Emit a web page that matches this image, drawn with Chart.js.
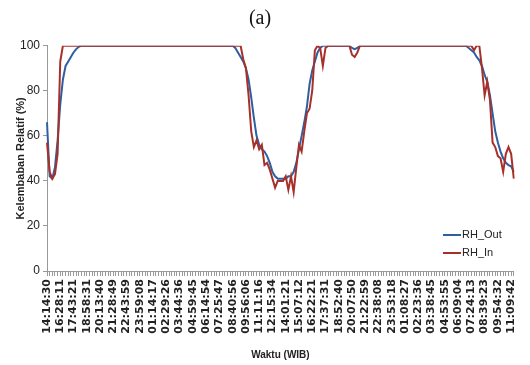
<!DOCTYPE html>
<html>
<head>
<meta charset="utf-8">
<script src="https://cdn.jsdelivr.net/npm/chart.js@4.4.1/dist/chart.umd.min.js"></script>
<style>
  body { margin: 0; background: #fff; }
  #wrap { width: 530px; height: 365px; }
</style>
</head>
<body>
<div id="wrap"><canvas id="chartRH" width="530" height="365"></canvas></div>
<script>
// tick labels shown on the time axis (one every 5 samples)
const tickLabels = ["14:14:30","16:28:11","17:43:21","18:58:31","20:13:40","21:28:49","22:43:59","23:59:08",
  "01:14:17","02:29:26","03:44:36","04:59:45","06:14:54","07:25:47","08:40:56","09:56:06","11:11:16",
  "12:15:34","14:01:21","15:07:12","16:22:21","17:37:31","18:52:40","20:07:50","21:22:59","22:38:08",
  "23:53:18","01:08:27","02:23:36","03:38:45","04:53:55","06:09:04","07:24:13","08:39:23","09:54:32","11:09:42"];
const labelEvery = 5;

const seriesNames = ["RH_Out", "RH_In"];

const rhOut = [
  66, 42, 41, 46, 58, 74, 85, 91, 93, 95, 97, 98.5, 99.5,
  100, 100, 100, 100, 100, 100, 100, 100, 100, 100,
  100, 100, 100, 100, 100, 100, 100, 100, 100, 100,
  100, 100, 100, 100, 100, 100, 100, 100, 100, 100,
  100, 100, 100, 100, 100, 100, 100, 100, 100, 100,
  100, 100, 100, 100, 100, 100, 100, 100, 100, 100,
  100, 100, 100, 100, 100, 100, 100, 100,
  99, 97, 95, 93, 90, 85, 77, 68, 60, 56, 54, 53, 51, 48, 44, 42, 41, 41, 41, 41,
  42, 42, 44, 48, 54, 60, 66, 73, 83, 89, 93, 97, 99,
  100, 100, 100, 100, 100, 100, 100, 100, 100, 100, 100,
  99, 98.5, 99,
  100, 100, 100, 100, 100, 100, 100, 100, 100, 100,
  100, 100, 100, 100, 100, 100, 100, 100, 100, 100,
  100, 100, 100, 100, 100, 100, 100, 100, 100, 100,
  100, 100, 100, 100, 100, 100, 100, 100, 100, 100,
  100,
  99, 98, 97, 95, 93.5, 91, 87, 84, 78, 70, 62, 57, 53, 50, 48, 47, 46.5, 44
];

const rhIn = [
  57, 44, 41, 43, 52, 93,
  100, 100, 100, 100, 100, 100, 100, 100, 100, 100,
  100, 100, 100, 100, 100, 100, 100, 100, 100, 100,
  100, 100, 100, 100, 100, 100, 100, 100, 100, 100,
  100, 100, 100, 100, 100, 100, 100, 100, 100, 100,
  100, 100, 100, 100, 100, 100, 100, 100, 100, 100,
  100, 100, 100, 100, 100, 100, 100, 100, 100, 100,
  100, 100, 100, 100, 100, 100, 100, 100,
  94, 90, 78, 62, 55, 58, 54, 56, 47, 48, 45, 41, 37, 40, 40, 40, 42, 36, 42, 35,
  46, 56, 53, 62, 70, 72, 80, 98, 100,
  99, 91, 99,
  100, 100, 100, 100, 100, 100, 100, 100, 100,
  96, 95, 97,
  100, 100, 100, 100, 100, 100, 100, 100, 100, 100,
  100, 100, 100, 100, 100, 100, 100, 100, 100, 100,
  100, 100, 100, 100, 100, 100, 100, 100, 100, 100,
  100, 100, 100, 100, 100, 100, 100, 100, 100, 100,
  100, 100, 100,
  98,
  100, 100,
  90, 78, 84, 76, 57, 55, 51, 50, 44, 52, 55, 52, 41
];

const yTicks = [0, 20, 40, 60, 80, 100];

// one category per sample, only every 5th carries a time label
const categories = rhOut.map((v, i) => (i % labelEvery === 0 ? (tickLabels[i / labelEvery] || "") : ""));

const colors = { out: "#2f5f9f", in: "#a8302b" };

// legend drawn inside the plot, lower right
const innerLegend = {
  id: "innerLegend",
  afterDatasetsDraw(chart) {
    const ctx = chart.ctx;
    const items = [
      { text: seriesNames[0], color: colors.out, y: 235 },
      { text: seriesNames[1], color: colors.in, y: 253 }
    ];
    ctx.save();
    ctx.font = "11px 'Liberation Sans', sans-serif";
    ctx.textBaseline = "middle";
    items.forEach(it => {
      ctx.strokeStyle = it.color;
      ctx.lineWidth = 2;
      ctx.beginPath();
      ctx.moveTo(443, it.y);
      ctx.lineTo(461, it.y);
      ctx.stroke();
      ctx.fillStyle = "#222";
      ctx.fillText(it.text, 462, it.y);
    });
    ctx.restore();
  }
};

new Chart(document.getElementById("chartRH"), {
  type: "line",
  data: {
    labels: categories,
    datasets: [
      { label: seriesNames[0], data: rhOut, borderColor: colors.out, borderWidth: 2, pointRadius: 0, tension: 0, order: 1 },
      { label: seriesNames[1], data: rhIn, borderColor: colors.in, borderWidth: 2, pointRadius: 0, tension: 0, order: 0 }
    ]
  },
  options: {
    responsive: false,
    animation: false,
    layout: { padding: { left: 0, right: 10, top: 0, bottom: 0 } },
    plugins: {
      legend: { display: false },
      tooltip: { enabled: false },
      title: {
        display: true,
        text: "(a)",
        color: "#111",
        font: { family: "'Liberation Serif', serif", size: 20, weight: "normal" },
        padding: { top: 7, bottom: 14.7 }
      }
    },
    scales: {
      x: {
        offset: false,
        afterFit(scale) { scale.height = 94; },
        border: { color: "#999", width: 1 },
        grid: { drawOnChartArea: false, tickLength: 5, color: "#999" },
        ticks: {
          autoSkip: false,
          minRotation: 90,
          maxRotation: 90,
          padding: 3,
          color: "#222",
          font: { family: "'DejaVu Sans', sans-serif", size: 11, weight: "bold" }
        },
        title: {
          display: true,
          text: "Waktu (WIB)",
          color: "#222",
          font: { family: "'Liberation Sans', sans-serif", size: 10, weight: "bold" },
          padding: { top: 0, bottom: 4 }
        }
      },
      y: {
        min: 0,
        max: 100,
        afterFit(scale) { scale.width = 47; },
        afterBuildTicks(scale) { scale.ticks = yTicks.map(v => ({ value: v })); },
        border: { color: "#999", width: 1 },
        grid: { drawOnChartArea: false, tickLength: 4, color: "#999" },
        ticks: {
          padding: 3,
          color: "#222",
          font: { family: "'Liberation Sans', sans-serif", size: 12 }
        },
        title: {
          display: true,
          text: "Kelembaban Relatif (%)",
          color: "#222",
          font: { family: "'Liberation Sans', sans-serif", size: 11, weight: "bold" },
          padding: { top: 14, bottom: 0 }
        }
      }
    }
  },
  plugins: [innerLegend]
});
</script>
</body>
</html>
